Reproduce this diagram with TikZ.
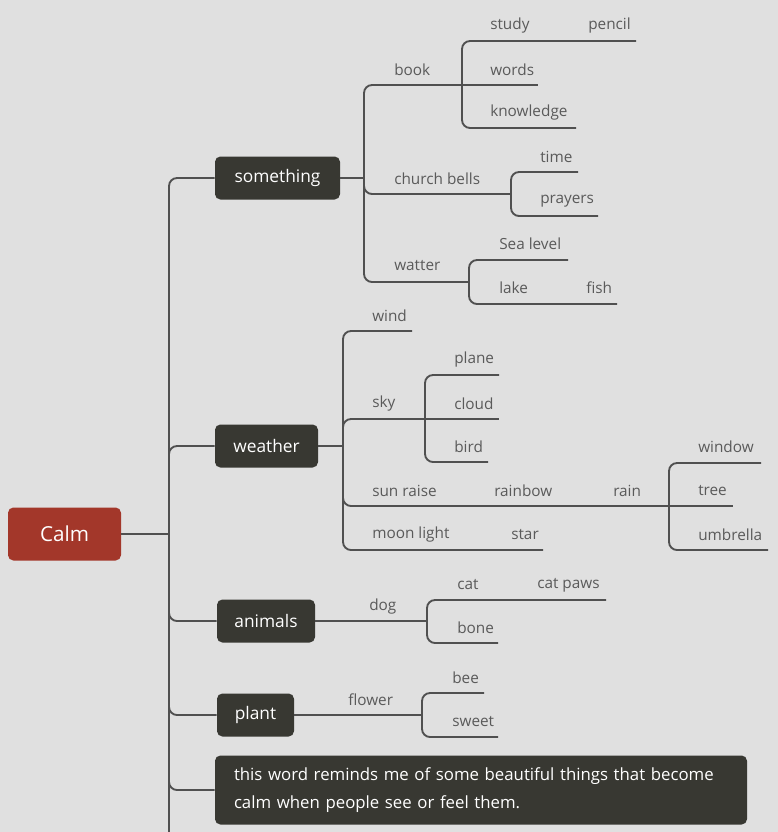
\documentclass[tikz,border=0pt]{standalone}
\usepackage{fontspec}
\setmainfont{Open Sans}
\definecolor{bg}{HTML}{E0E0E0}
\definecolor{ln}{HTML}{505050}
\definecolor{lbl}{HTML}{5A5A5A}
\definecolor{boxc}{HTML}{383832}
\definecolor{rootc}{HTML}{A3372A}
\begin{document}
\begin{tikzpicture}[x=0.75pt,y=-0.75pt,
  conn/.style={draw=ln,line width=1.4pt,rounded corners=6pt},
  lab/.style={anchor=west,text=lbl,font=\fontsize{11.5}{13}\selectfont,inner sep=0pt,yshift=-1.5pt},
  topic/.style={fill=boxc,text=white,rounded corners=4pt,font=\fontsize{13}{15}\selectfont,minimum height=32.25pt,inner sep=0pt},
]
\fill[bg] (0,0) rectangle (778,832);
\useasboundingbox (0,0) rectangle (778,832);

% root and main topics
\node[fill=rootc,text=white,rounded corners=4pt,minimum width=84.75pt,minimum height=39.75pt,inner sep=0pt,font=\fontsize{15.5}{18}\selectfont] (calm) at (64.5,534) {Calm};
\node[topic,minimum width=93.75pt] (something) at (277.5,178) {something};
\node[topic,minimum width=77.25pt] (weather) at (266.5,446) {weather};
\node[topic,minimum width=73.5pt] (animals) at (266,621) {animals};
\node[topic,minimum width=57.75pt] (plant) at (255.5,715) {plant};
\node[fill=boxc,text=white,rounded corners=4pt,minimum height=51.75pt,text width=370.5pt,inner xsep=14.25pt,inner ysep=0pt,align=left,font=\fontsize{12.6}{21}\selectfont] (note) at (481,790) {\mbox{this word reminds me of some beautiful things that become}\\\mbox{calm when people see or feel them.}};

% trunk
\coordinate (trunk) at (169,534);
\coordinate (trunkend) at (169,832);
\draw[conn] (calm.east) -- (trunk);
\draw[conn] (something.west) -| (trunkend);
\draw[conn] (weather.west) -| (trunk);
\draw[conn] (animals.west) -| (trunk);
\draw[conn] (plant.west) -| (trunk);
\draw[conn] (note.west) -| (trunk);

% something
\coordinate (sf) at (364,178);
\coordinate (bookf) at (462,85);
\coordinate (cbf) at (511,194);
\coordinate (wtf) at (469,282);
\coordinate (studyend) at (636,41);
\coordinate (wordsend) at (538,85);
\coordinate (knowend) at (576,128);
\coordinate (timeend) at (578,172);
\coordinate (prayend) at (598,216);
\coordinate (seaend) at (568,260);
\coordinate (lakeend) at (617,304);
\draw[conn] (something.east) -- (sf);
\draw[conn] (sf) |- (bookf);
\draw[conn] (sf) |- (cbf);
\draw[conn] (sf) |- (wtf);
\draw[conn] (bookf) |- (studyend);
\draw[conn] (bookf) -- (wordsend);
\draw[conn] (bookf) |- (knowend);
\draw[conn] (cbf) |- (timeend);
\draw[conn] (cbf) |- (prayend);
\draw[conn] (wtf) |- (seaend);
\draw[conn] (wtf) |- (lakeend);
\node[lab] (book) at (394,68) {book};
\node[lab] (study) at (490,24) {study};
\node[lab] (pencil) at (588,24) {pencil};
\node[lab] (words) at (490,68) {words};
\node[lab] (knowledge) at (490,111) {knowledge};
\node[lab] (church) at (394,177) {church bells};
\node[lab] (time) at (540,155) {time};
\node[lab] (prayers) at (540,199) {prayers};
\node[lab] (watter) at (394,264) {watter};
\node[lab] (sea) at (499,242) {Sea level};
\node[lab] (lake) at (499,286) {lake};
\node[lab] (fish) at (586,286) {fish};

% weather
\coordinate (wf) at (343,446);
\coordinate (windend) at (412,331);
\coordinate (skyf) at (425,419);
\coordinate (planeend) at (499,375);
\coordinate (cloudend) at (499,419);
\coordinate (birdend) at (488,462);
\coordinate (rainf) at (669,506);
\coordinate (windowend) at (761,463);
\coordinate (treeend) at (733,506);
\coordinate (umbend) at (768,550);
\coordinate (moonend) at (543,550);
\draw[conn] (weather.east) -- (wf);
\draw[conn] (wf) |- (windend);
\draw[conn] (wf) |- (skyf);
\draw[conn] (wf) |- (rainf);
\draw[conn] (wf) |- (moonend);
\draw[conn] (skyf) |- (planeend);
\draw[conn] (skyf) -- (cloudend);
\draw[conn] (skyf) |- (birdend);
\draw[conn] (rainf) |- (windowend);
\draw[conn] (rainf) -- (treeend);
\draw[conn] (rainf) |- (umbend);
\node[lab] (wind) at (372,314) {wind};
\node[lab] (sky) at (372,402) {sky};
\node[lab] (plane) at (454,358) {plane};
\node[lab] (cloud) at (454,402) {cloud};
\node[lab] (bird) at (454,445) {bird};
\node[lab] (sun) at (372,489) {sun raise};
\node[lab] (rainbow) at (494,489) {rainbow};
\node[lab] (rain) at (613,489) {rain};
\node[lab] (window) at (698,445) {window};
\node[lab] (tree) at (698,489) {tree};
\node[lab] (umbrella) at (698,533) {umbrella};
\node[lab] (moon) at (372,533) {moon light};
\node[lab] (star) at (511,533) {star};

% animals
\coordinate (dogf) at (427,621);
\coordinate (catend) at (606,600);
\coordinate (boneend) at (498,643);
\draw[conn] (animals.east) -- (dogf);
\draw[conn] (dogf) |- (catend);
\draw[conn] (dogf) |- (boneend);
\node[lab] (dog) at (369,605) {dog};
\node[lab] (cat) at (457,583) {cat};
\node[lab] (catpaws) at (537,583) {cat paws};
\node[lab] (bone) at (457,626) {bone};

% plant
\coordinate (flf) at (422,715);
\coordinate (beeend) at (484,693);
\coordinate (sweetend) at (498,737);
\draw[conn] (plant.east) -- (flf);
\draw[conn] (flf) |- (beeend);
\draw[conn] (flf) |- (sweetend);
\node[lab] (flower) at (348,698) {flower};
\node[lab] (bee) at (452,676) {bee};
\node[lab] (sweet) at (452,720) {sweet};
\end{tikzpicture}
\end{document}
